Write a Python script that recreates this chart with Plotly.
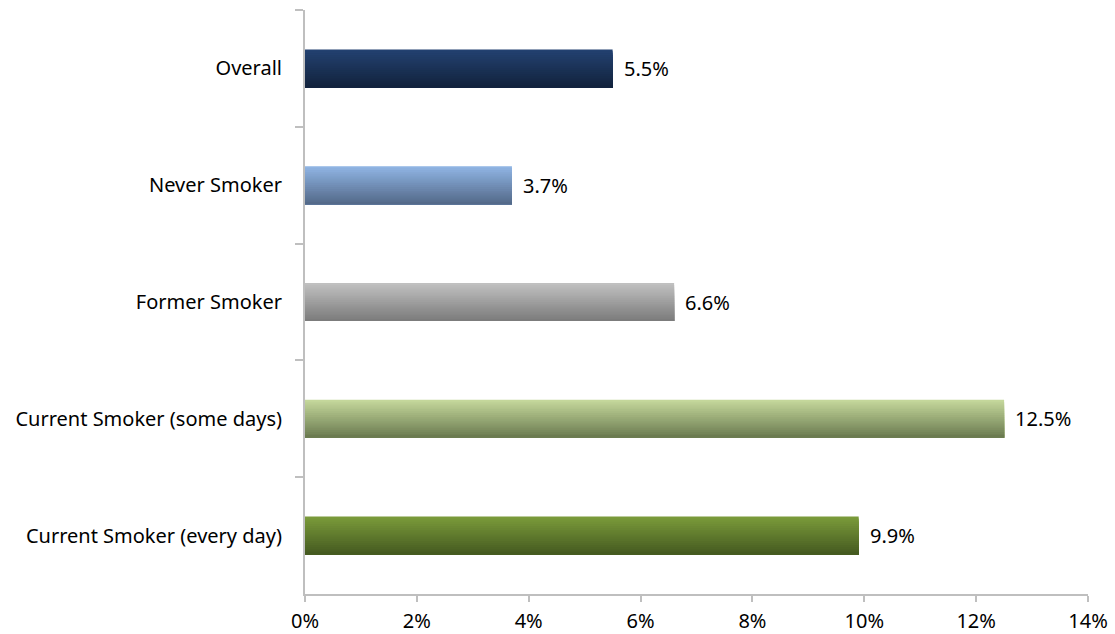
import plotly.graph_objects as go

categories = ["Overall", "Never Smoker", "Former Smoker",
              "Current Smoker (some days)", "Current Smoker (every day)"]
values = [5.5, 3.7, 6.6, 12.5, 9.9]
top_colors = ["#234170", "#8fb4e3", "#c0c0c0", "#c4d79b", "#7a9a3a"]
bottom_colors = ["#12233d", "#546a8a", "#7c7c7c", "#6b7b50", "#455a20"]
x_ticks = [0, 2, 4, 6, 8, 10, 12, 14]
x_tick_labels = ["0%", "2%", "4%", "6%", "8%", "10%", "12%", "14%"]

FONT = "Noto Sans"
FSIZE = 20
N = 20
BAR_W = 0.325


def hex_to_rgb(h):
    h = h.lstrip("#")
    return tuple(int(h[i:i + 2], 16) for i in (0, 2, 4))


def mix(c1, c2, t):
    a, b = hex_to_rgb(c1), hex_to_rgb(c2)
    return "rgb({},{},{})".format(*[round(a[k] + (b[k] - a[k]) * t) for k in range(3)])


fig = go.Figure()
sw = BAR_W / N
for i in range(N):
    t = i / (N - 1)
    fig.add_trace(go.Bar(
        x=values,
        y=categories,
        orientation="h",
        width=[BAR_W - i * sw] * len(values),
        offset=[-BAR_W / 2 + i * sw] * len(values),
        marker=dict(color=[mix(top_colors[k], bottom_colors[k], t) for k in range(len(values))],
                    line=dict(width=0)),
        hoverinfo="skip",
        showlegend=False,
    ))

for c, v in zip(categories, values):
    fig.add_annotation(x=v, y=c, text=f"{v:.1f}%", showarrow=False,
                       xanchor="left", xshift=9,
                       font=dict(family=FONT, size=FSIZE, color="#000000"))

fig.update_layout(
    width=1115, height=634,
    margin=dict(l=305, r=27, t=10, b=40),
    paper_bgcolor="white", plot_bgcolor="white",
    barmode="overlay",
    font=dict(family=FONT, size=FSIZE, color="#000000"),
)
fig.update_xaxes(
    range=[0, 14], tickvals=x_ticks, ticktext=x_tick_labels,
    showgrid=False, zeroline=False,
    showline=True, linecolor="#bfbfbf", linewidth=2,
    ticks="outside", ticklen=6, tickcolor="#bfbfbf", tickwidth=2,
    ticklabelstandoff=2, automargin=False,
)
fig.update_yaxes(
    categoryorder="array", categoryarray=categories, autorange="reversed",
    tickson="boundaries",
    showgrid=False, zeroline=False,
    showline=True, linecolor="#bfbfbf", linewidth=2,
    ticks="outside", ticklen=8, tickcolor="#bfbfbf", tickwidth=2,
    ticklabelstandoff=17, automargin=False,
)

fig.write_html("out.html", config={"displayModeBar": False},
               post_script="document.body.style.margin='0';document.body.style.overflow='hidden';")
